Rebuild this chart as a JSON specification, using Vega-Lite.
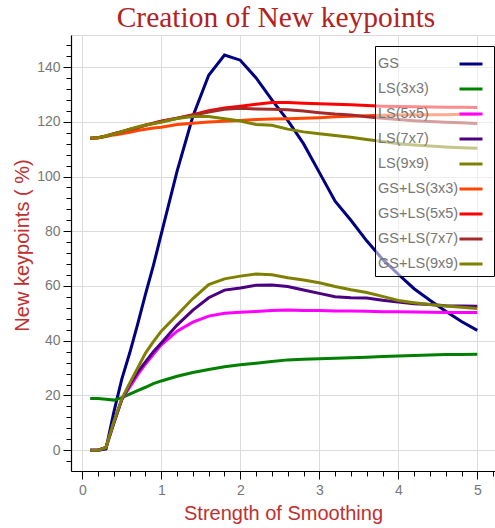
{
  "$schema": "https://vega.github.io/schema/vega-lite/v6.json",
  "width": 424,
  "height": 436,
  "autosize": {"type": "none"},
  "padding": {"left": 71, "top": 35, "right": 0, "bottom": 57},
  "background": "white",
  "title": {"text": "Creation of New keypoints", "font": "Liberation Serif", "fontSize": 29.5, "fontWeight": "normal", "color": "#b22222", "anchor": "middle", "dx": -7, "offset": 2},
  "config": {
    "view": {"stroke": "#d9d9d9", "strokeWidth": 1},
    "axis": {"domainColor": "black", "domainWidth": 1.2, "tickColor": "black", "labelColor": "#777", "labelFont": "Liberation Sans", "labelFontSize": 14, "gridColor": "#dcdcdc", "gridWidth": 1, "titleFont": "Liberation Sans", "titleFontSize": 20, "titleFontWeight": "normal", "titleColor": "#c0302f"},
    "legend": {"symbolType": "stroke", "symbolStrokeWidth": 3, "symbolSize": 529, "labelFontSize": 14.5, "labelColor": "#777", "labelFont": "Liberation Sans", "strokeColor": "black", "fillColor": "rgba(255,255,255,0.55)", "padding": 5, "rowPadding": 5, "labelOffset": -106, "symbolOffset": 78, "labelLimit": 200}
  },
  "data": {"values": [
    {"x":0.1,"GS":0,"LS(3x3)":18.9,"LS(5x5)":0,"LS(7x7)":0,"LS(9x9)":0,"GS+LS(3x3)":114,"GS+LS(5x5)":114,"GS+LS(7x7)":114,"GS+LS(9x9)":114},
    {"x":0.2,"GS":0,"LS(3x3)":18.9,"LS(5x5)":0,"LS(7x7)":0,"LS(9x9)":0,"GS+LS(3x3)":114.2,"GS+LS(5x5)":114.2,"GS+LS(7x7)":114.2,"GS+LS(9x9)":114.2},
    {"x":0.3,"GS":0.5,"LS(3x3)":18.6,"LS(5x5)":1,"LS(7x7)":1,"LS(9x9)":1,"GS+LS(3x3)":114.6,"GS+LS(5x5)":114.8,"GS+LS(7x7)":114.8,"GS+LS(9x9)":114.8},
    {"x":0.4,"GS":14,"LS(3x3)":18.3,"LS(5x5)":10,"LS(7x7)":10,"LS(9x9)":10.5,"GS+LS(3x3)":115.2,"GS+LS(5x5)":115.6,"GS+LS(7x7)":115.6,"GS+LS(9x9)":115.5},
    {"x":0.5,"GS":26,"LS(3x3)":19.2,"LS(5x5)":18.5,"LS(7x7)":18.5,"LS(9x9)":18.8,"GS+LS(3x3)":115.6,"GS+LS(5x5)":116.4,"GS+LS(7x7)":116.4,"GS+LS(9x9)":116.4},
    {"x":0.6,"GS":35.5,"LS(3x3)":20.5,"LS(5x5)":23,"LS(7x7)":24,"LS(9x9)":24.5,"GS+LS(3x3)":116.2,"GS+LS(5x5)":117.2,"GS+LS(7x7)":117.2,"GS+LS(9x9)":117.3},
    {"x":0.7,"GS":46,"LS(3x3)":21.8,"LS(5x5)":27.5,"LS(7x7)":28.5,"LS(9x9)":30,"GS+LS(3x3)":116.8,"GS+LS(5x5)":117.9,"GS+LS(7x7)":117.9,"GS+LS(9x9)":118.1},
    {"x":0.8,"GS":57,"LS(3x3)":23,"LS(5x5)":31.5,"LS(7x7)":32.3,"LS(9x9)":35.5,"GS+LS(3x3)":117.3,"GS+LS(5x5)":118.7,"GS+LS(7x7)":118.7,"GS+LS(9x9)":118.8},
    {"x":0.9,"GS":67.5,"LS(3x3)":24.3,"LS(5x5)":35,"LS(7x7)":36,"LS(9x9)":39.7,"GS+LS(3x3)":117.7,"GS+LS(5x5)":119.5,"GS+LS(7x7)":119.5,"GS+LS(9x9)":119.3},
    {"x":1.0,"GS":79,"LS(3x3)":25.3,"LS(5x5)":38.5,"LS(7x7)":39.2,"LS(9x9)":43.5,"GS+LS(3x3)":118,"GS+LS(5x5)":120.2,"GS+LS(7x7)":120.2,"GS+LS(9x9)":119.8},
    {"x":1.2,"GS":102,"LS(3x3)":27,"LS(5x5)":43.5,"LS(7x7)":45.7,"LS(9x9)":49.4,"GS+LS(3x3)":119,"GS+LS(5x5)":121.3,"GS+LS(7x7)":121.3,"GS+LS(9x9)":121.2},
    {"x":1.4,"GS":122,"LS(3x3)":28.4,"LS(5x5)":46.8,"LS(7x7)":51.2,"LS(9x9)":55.4,"GS+LS(3x3)":119.5,"GS+LS(5x5)":122.6,"GS+LS(7x7)":122.4,"GS+LS(9x9)":121.9},
    {"x":1.6,"GS":137,"LS(3x3)":29.5,"LS(5x5)":49,"LS(7x7)":55.7,"LS(9x9)":60.5,"GS+LS(3x3)":119.9,"GS+LS(5x5)":124,"GS+LS(7x7)":123.6,"GS+LS(9x9)":121.9},
    {"x":1.8,"GS":144.4,"LS(3x3)":30.5,"LS(5x5)":50,"LS(7x7)":58.5,"LS(9x9)":62.6,"GS+LS(3x3)":120.2,"GS+LS(5x5)":125,"GS+LS(7x7)":124.6,"GS+LS(9x9)":121.1},
    {"x":2.0,"GS":142.5,"LS(3x3)":31.2,"LS(5x5)":50.4,"LS(7x7)":59.3,"LS(9x9)":63.6,"GS+LS(3x3)":120.5,"GS+LS(5x5)":125.7,"GS+LS(7x7)":124.9,"GS+LS(9x9)":120.3},
    {"x":2.2,"GS":136,"LS(3x3)":31.8,"LS(5x5)":50.7,"LS(7x7)":60.3,"LS(9x9)":64.4,"GS+LS(3x3)":120.8,"GS+LS(5x5)":126.4,"GS+LS(7x7)":124.7,"GS+LS(9x9)":119},
    {"x":2.4,"GS":128,"LS(3x3)":32.4,"LS(5x5)":51,"LS(7x7)":60.4,"LS(9x9)":64.1,"GS+LS(3x3)":121,"GS+LS(5x5)":127,"GS+LS(7x7)":124.6,"GS+LS(9x9)":118.7},
    {"x":2.6,"GS":120.5,"LS(3x3)":33,"LS(5x5)":51.2,"LS(7x7)":59.8,"LS(9x9)":63,"GS+LS(3x3)":121.1,"GS+LS(5x5)":127,"GS+LS(7x7)":124.4,"GS+LS(9x9)":117.3},
    {"x":2.8,"GS":112,"LS(3x3)":33.2,"LS(5x5)":51,"LS(7x7)":58.5,"LS(9x9)":62.2,"GS+LS(3x3)":121.3,"GS+LS(5x5)":126.8,"GS+LS(7x7)":123.9,"GS+LS(9x9)":116.3},
    {"x":3.0,"GS":101.5,"LS(3x3)":33.4,"LS(5x5)":51,"LS(7x7)":57.3,"LS(9x9)":61.2,"GS+LS(3x3)":121.5,"GS+LS(5x5)":126.6,"GS+LS(7x7)":123.3,"GS+LS(9x9)":115.6},
    {"x":3.2,"GS":91,"LS(3x3)":33.6,"LS(5x5)":50.9,"LS(7x7)":56.1,"LS(9x9)":59.8,"GS+LS(3x3)":121.8,"GS+LS(5x5)":126.4,"GS+LS(7x7)":122.8,"GS+LS(9x9)":115},
    {"x":3.4,"GS":84,"LS(3x3)":33.8,"LS(5x5)":50.9,"LS(7x7)":55.7,"LS(9x9)":58.6,"GS+LS(3x3)":122,"GS+LS(5x5)":126.2,"GS+LS(7x7)":122.5,"GS+LS(9x9)":114.3},
    {"x":3.6,"GS":76.5,"LS(3x3)":34,"LS(5x5)":50.8,"LS(7x7)":55.6,"LS(9x9)":57.6,"GS+LS(3x3)":122.2,"GS+LS(5x5)":125.9,"GS+LS(7x7)":121.8,"GS+LS(9x9)":113.5},
    {"x":3.8,"GS":69.8,"LS(3x3)":34.2,"LS(5x5)":50.6,"LS(7x7)":54.8,"LS(9x9)":56.2,"GS+LS(3x3)":122.4,"GS+LS(5x5)":125.7,"GS+LS(7x7)":121.3,"GS+LS(9x9)":112.8},
    {"x":4.0,"GS":64.3,"LS(3x3)":34.4,"LS(5x5)":50.6,"LS(7x7)":54.1,"LS(9x9)":54.7,"GS+LS(3x3)":122.5,"GS+LS(5x5)":125.6,"GS+LS(7x7)":120.8,"GS+LS(9x9)":112},
    {"x":4.2,"GS":59,"LS(3x3)":34.6,"LS(5x5)":50.5,"LS(7x7)":53.5,"LS(9x9)":53.9,"GS+LS(3x3)":122.6,"GS+LS(5x5)":125.5,"GS+LS(7x7)":120.4,"GS+LS(9x9)":111.5},
    {"x":4.4,"GS":54.8,"LS(3x3)":34.8,"LS(5x5)":50.4,"LS(7x7)":53.2,"LS(9x9)":53.2,"GS+LS(3x3)":122.6,"GS+LS(5x5)":125.4,"GS+LS(7x7)":120.1,"GS+LS(9x9)":111.1},
    {"x":4.6,"GS":50.8,"LS(3x3)":35,"LS(5x5)":50.3,"LS(7x7)":52.8,"LS(9x9)":52.7,"GS+LS(3x3)":122.6,"GS+LS(5x5)":125.3,"GS+LS(7x7)":119.8,"GS+LS(9x9)":110.8},
    {"x":4.8,"GS":47,"LS(3x3)":35,"LS(5x5)":50.3,"LS(7x7)":52.7,"LS(9x9)":52.2,"GS+LS(3x3)":122.7,"GS+LS(5x5)":125.3,"GS+LS(7x7)":119.6,"GS+LS(9x9)":110.5},
    {"x":5.0,"GS":43.8,"LS(3x3)":35.1,"LS(5x5)":50.3,"LS(7x7)":52.6,"LS(9x9)":51.8,"GS+LS(3x3)":122.7,"GS+LS(5x5)":125.2,"GS+LS(7x7)":119.4,"GS+LS(9x9)":110.3}
  ]},
  "transform": [
    {"fold": ["GS","LS(3x3)","LS(5x5)","LS(7x7)","LS(9x9)","GS+LS(3x3)","GS+LS(5x5)","GS+LS(7x7)","GS+LS(9x9)"], "as": ["series","value"]}
  ],
  "mark": {"type": "line", "strokeWidth": 3, "clip": true},
  "encoding": {
    "x": {"field": "x", "type": "quantitative",
      "scale": {"domain": [-0.143, 5.224], "nice": false, "zero": false},
      "axis": {"title": "Strength of Smoothing", "titlePadding": 6,
        "values": [0,0.2,0.4,0.6,0.8,1,1.2,1.4,1.6,1.8,2,2.2,2.4,2.6,2.8,3,3.2,3.4,3.6,3.8,4,4.2,4.4,4.6,4.8,5,5.2],
        "labelExpr": "abs(datum.value - round(datum.value)) < 0.001 ? format(datum.value, 'd') : ''",
        "tickSize": {"condition": {"test": "abs(datum.value - round(datum.value)) < 0.001", "value": 8}, "value": 5},
        "gridOpacity": {"condition": {"test": "abs(datum.value - round(datum.value)) < 0.001", "value": 1}, "value": 0},
        "labelPadding": 4, "labelFlush": false, "labelOverlap": false}},
    "y": {"field": "value", "type": "quantitative",
      "scale": {"domain": [-7.6, 151.7], "nice": false, "zero": false},
      "axis": {"title": "New keypoints ( %)", "titleX": -39, "titleY": 210, "titleAlign": "center",
        "values": [-4,0,4,8,12,16,20,24,28,32,36,40,44,48,52,56,60,64,68,72,76,80,84,88,92,96,100,104,108,112,116,120,124,128,132,136,140,144,148],
        "labelExpr": "datum.value % 20 === 0 ? format(datum.value, 'd') : ''",
        "tickSize": {"condition": {"test": "datum.value % 20 === 0", "value": 8}, "value": 5},
        "gridOpacity": {"condition": {"test": "datum.value % 20 === 0", "value": 1}, "value": 0},
        "labelPadding": 3, "labelFlush": false, "labelOverlap": false}},
    "color": {"field": "series", "type": "nominal",
      "scale": {"domain": ["GS","LS(3x3)","LS(5x5)","LS(7x7)","LS(9x9)","GS+LS(3x3)","GS+LS(5x5)","GS+LS(7x7)","GS+LS(9x9)"],
        "range": ["#000080","#008000","#ff00ff","#4b0082","#808000","#ff4500","#ff0000","#a52a2a","#808000"]},
      "legend": {"title": null, "orient": "none", "legendX": 304, "legendY": 11}}
  }
}
